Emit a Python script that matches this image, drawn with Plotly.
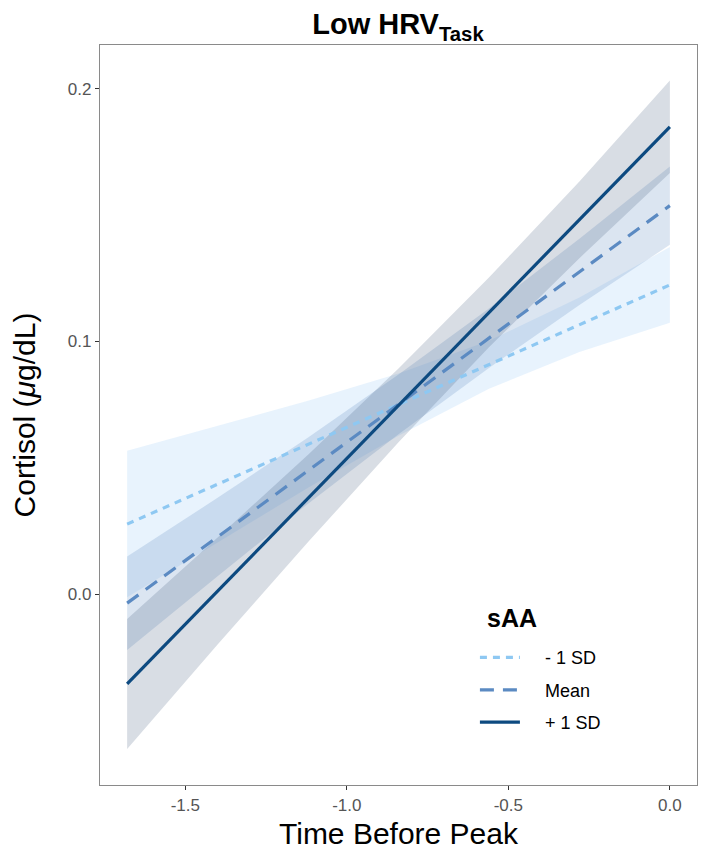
import plotly.graph_objects as go

# Data
time = [-1.68, -1.40, -1.12, -0.84, -0.56, -0.28, 0.0]

low_fit = [0.0277, 0.0435, 0.0593, 0.0750, 0.0908, 0.1066, 0.1224]
low_lower = [-0.0013, 0.0205, 0.0421, 0.0627, 0.0813, 0.0958, 0.1074]
low_upper = [0.0567, 0.0665, 0.0765, 0.0873, 0.1003, 0.1174, 0.1374]

mean_fit = [-0.0036, 0.0226, 0.0489, 0.0751, 0.1013, 0.1276, 0.1538]
mean_lower = [-0.0221, 0.0071, 0.0358, 0.0633, 0.0895, 0.1145, 0.1383]
mean_upper = [0.0149, 0.0381, 0.0620, 0.0869, 0.1131, 0.1407, 0.1693]

high_fit = [-0.0356, 0.0012, 0.0379, 0.0747, 0.1115, 0.1482, 0.1850]
high_lower = [-0.0613, -0.0200, 0.0206, 0.0601, 0.0977, 0.1330, 0.1667]
high_upper = [-0.0099, 0.0224, 0.0552, 0.0893, 0.1253, 0.1634, 0.2033]

series_names = ["- 1 SD", "Mean", "+ 1 SD"]
x_ticks = [-1.5, -1.0, -0.5, 0.0]
y_ticks = [0.0, 0.1, 0.2]

FONT = "Liberation Sans, Arial, Helvetica, sans-serif"
PAD = "\u00a0\u00a0\u00a0\u00a0"

groups = [
    (series_names[0], low_fit, low_lower, low_upper, "#8ec8f2", "rgba(150,200,245,0.22)", "7px,6px"),
    (series_names[1], mean_fit, mean_lower, mean_upper, "#5b8ac2", "rgba(90,135,190,0.22)", "14px,9px"),
    (series_names[2], high_fit, high_lower, high_upper, "#0d4a80", "rgba(60,85,120,0.20)", "solid"),
]

fig = go.Figure()

# ribbons
for name, fit, lo, hi, lc, fc, dash in groups:
    fig.add_trace(go.Scatter(x=time, y=lo, mode="lines", line=dict(width=0),
                             showlegend=False, hoverinfo="skip"))
    fig.add_trace(go.Scatter(x=time, y=hi, mode="lines", line=dict(width=0),
                             fill="tonexty", fillcolor=fc, showlegend=False,
                             hoverinfo="skip"))

# lines
for name, fit, lo, hi, lc, fc, dash in groups:
    fig.add_trace(go.Scatter(x=time, y=fit, mode="lines", name=PAD + name,
                             legendgroup=name,
                             line=dict(color=lc, width=3.2, dash=dash)))

axis_common = dict(
    showgrid=False, zeroline=False, showline=True, mirror=True,
    linecolor="#8a8a8a", linewidth=1.2, automargin=False,
    ticks="outside", ticklen=4, tickwidth=1.2, tickcolor="#333333",
    tickfont=dict(family=FONT, size=17, color="#555555"),
)

fig.update_layout(
    width=709, height=857,
    margin=dict(l=92, r=20, t=37, b=80),
    paper_bgcolor="white", plot_bgcolor="white",
    font=dict(family=FONT),
    title=dict(text="<b>Low HRV<sub>Task</sub></b>", x=0.55, xanchor="center",
               y=0.981, yanchor="middle", yref="container",
               font=dict(family=FONT, size=29, color="black")),
    xaxis=dict(range=[-1.764, 0.084], tickvals=x_ticks,
               ticktext=[f"{v:.1f}" for v in x_ticks],
               title=dict(text="Time Before Peak", standoff=9,
                          font=dict(family=FONT, size=30, color="black")),
               **axis_common),
    yaxis=dict(range=[-0.0756, 0.2174], tickvals=y_ticks,
               ticktext=[f"{v:.1f}" for v in y_ticks],
               title=dict(text="Cortisol (<i>μ</i>g/dL)", standoff=29,
                          font=dict(family=FONT, size=30, color="black")),
               **axis_common),
    legend=dict(x=0.628, y=0.197, xanchor="left", yanchor="top",
                bgcolor="rgba(0,0,0,0)",
                font=dict(family=FONT, size=18, color="black"),
                tracegroupgap=6, itemwidth=40),
    annotations=[dict(text="<b>sAA</b>", x=0.69, y=0.2257, xref="paper", yref="paper",
                      xanchor="center", yanchor="middle", showarrow=False,
                      font=dict(family=FONT, size=25, color="black"))],
)

fig.write_html("out.html")
